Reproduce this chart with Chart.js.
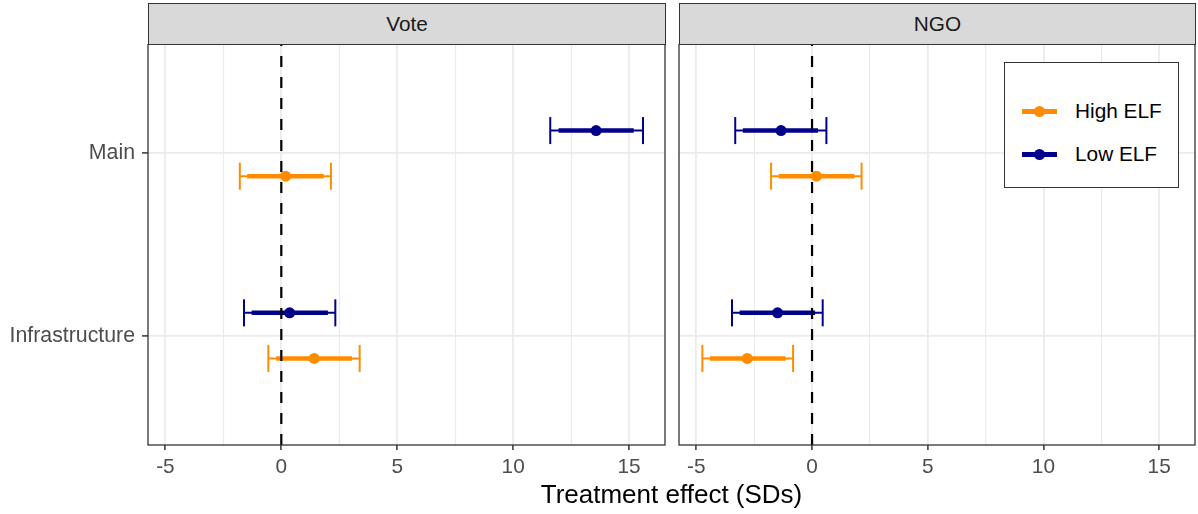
<!DOCTYPE html>
<html>
<head>
<meta charset="utf-8">
<script src="https://cdn.jsdelivr.net/npm/chart.js@4.4.1/dist/chart.umd.min.js"></script>
<style>
  body { margin: 0; width: 1198px; height: 514px; position: relative; background: #fff; overflow: hidden;
         font-family: "Liberation Sans", Arial, sans-serif; }
  canvas { position: absolute; }
  .strip { position: absolute; top: 3px; height: 42px; background: #d9d9d9; border: 1.3px solid #333;
           box-sizing: border-box; font-size: 20.8px; color: #1a1a1a; text-align: center; line-height: 39px; }
  .xtitle { position: absolute; left: 148px; width: 1047px; top: 478px; text-align: center;
            font-size: 26px; color: #000; line-height: 32px; }
  .legend { position: absolute; left: 1004px; top: 62px; width: 175px; height: 126px; background: #fff;
            border: 1.3px solid #333; box-sizing: border-box; }
  .item { position: absolute; left: 0; height: 30px; width: 170px; }
  .key { position: absolute; left: 17px; top: 12.5px; width: 35px; height: 5px; }
  .dot { position: absolute; left: 29px; top: 9.5px; width: 11px; height: 11px; border-radius: 50%; }
  .lab { position: absolute; left: 70px; top: 0; font-size: 20.8px; line-height: 30px; color: #000; }
</style>
</head>
<body>
<canvas id="voteChart" style="left:0;top:44px" width="667" height="470"></canvas>
<canvas id="ngoChart" style="left:677px;top:44px" width="520" height="470"></canvas>
<div class="strip" style="left:148px;width:518px">Vote</div>
<div class="strip" style="left:679px;width:517px">NGO</div>
<div class="xtitle">Treatment effect (SDs)</div>
<div class="legend" id="legend"></div>
<script>
const categories = ["Main", "Infrastructure"];
const seriesNames = ["High ELF", "Low ELF"];
const seriesColors = ["#ff8c00", "#00008b"];
const xTicks = [-5, -2.5, 0, 2.5, 5, 7.5, 10, 12.5, 15];

// Vote panel
const voteHighEst = [0.19, 1.42];
const voteHighLo95 = [-1.79, -0.56];
const voteHighHi95 = [2.14, 3.38];
const voteHighLo90 = [-1.47, -0.22];
const voteHighHi90 = [1.83, 3.05];
const voteLowEst = [13.58, 0.36];
const voteLowLo95 = [11.6, -1.61];
const voteLowHi95 = [15.6, 2.33];
const voteLowLo90 = [11.96, -1.28];
const voteLowHi90 = [15.2, 2.01];

// NGO panel
const ngoHighEst = [0.19, -2.8];
const ngoHighLo95 = [-1.77, -4.74];
const ngoHighHi95 = [2.14, -0.82];
const ngoHighLo90 = [-1.44, -4.41];
const ngoHighHi90 = [1.83, -1.15];
const ngoLowEst = [-1.34, -1.49];
const ngoLowLo95 = [-3.32, -3.46];
const ngoLowHi95 = [0.62, 0.46];
const ngoLowLo90 = [-2.99, -3.13];
const ngoLowHi90 = [0.26, 0.13];

const dodge = [0.125, -0.125];

function buildDatasets(groups) {
  const sets = [];
  groups.forEach((g, s) => {
    const color = seriesColors[s];
    categories.forEach((cat, i) => {
      const y = i + 1 + dodge[s];
      sets.push({
        data: [{ x: g.lo95[i], y }, { x: g.hi95[i], y }],
        showLine: true, borderColor: color, borderWidth: 2,
        pointStyle: "line", pointRotation: 90, pointRadius: 13.5,
        pointBorderWidth: 2, pointBorderColor: color, order: 3
      });
      sets.push({
        data: [{ x: g.lo90[i], y }, { x: g.hi90[i], y }],
        showLine: true, borderColor: color, borderWidth: 4.5, pointRadius: 0, order: 2
      });
    });
    sets.push({
      data: g.est.map((v, i) => ({ x: v, y: i + 1 + dodge[s] })),
      pointRadius: 5.5, backgroundColor: color, borderColor: color, borderWidth: 0, order: 1
    });
  });
  return sets;
}

const panelDecor = {
  id: "panelDecor",
  afterDatasetsDraw(chart) {
    const { ctx, chartArea: a } = chart;
    const px = chart.scales.x.getPixelForValue(0);
    ctx.save();
    ctx.beginPath();
    ctx.rect(a.left, a.top, a.width, a.height);
    ctx.clip();
    ctx.strokeStyle = "#000";
    ctx.lineWidth = 2.2;
    ctx.setLineDash([11, 10]);
    ctx.beginPath();
    ctx.moveTo(px, a.bottom);
    ctx.lineTo(px, a.top);
    ctx.stroke();
    ctx.restore();
    ctx.save();
    ctx.strokeStyle = "#333";
    ctx.lineWidth = 1.3;
    ctx.strokeRect(a.left, a.top, a.width, a.height);
    ctx.restore();
  }
};

function noPadding(scale) {
  scale.paddingLeft = 0;
  scale.paddingRight = 0;
  scale.paddingTop = 0;
  scale.paddingBottom = 0;
}

function makeChart(id, groups, showY) {
  return new Chart(document.getElementById(id), {
    type: "scatter",
    data: { datasets: buildDatasets(groups) },
    options: {
      responsive: false,
      animation: false,
      events: [],
      layout: { autoPadding: false, padding: { left: 0, right: 2, top: 0, bottom: 0 } },
      plugins: { legend: { display: false }, tooltip: { enabled: false } },
      scales: {
        x: {
          type: "linear", min: -5.75, max: 16.55,
          afterBuildTicks: (scale) => { scale.ticks = xTicks.map((v) => ({ value: v })); },
          afterFit: (scale) => { scale.height = 69; noPadding(scale); },
          border: { display: false },
          grid: {
            color: "#ebebeb",
            lineWidth: (c) => (c.tick && c.tick.value % 5 === 0 ? 1.8 : 1.1),
            tickColor: (c) => (c.tick && c.tick.value % 5 === 0 ? "#333" : "rgba(0,0,0,0)"),
            tickLength: 5, tickWidth: 1.5
          },
          ticks: {
            autoSkip: false, maxRotation: 0, padding: 5, color: "#4d4d4d",
            font: { family: "Liberation Sans", size: 20.8 },
            callback: (v) => (v % 5 === 0 ? String(v) : "")
          }
        },
        y: {
          type: "linear", min: 0.4, max: 2.6, reverse: true,
          afterBuildTicks: (scale) => { scale.ticks = categories.map((c, i) => ({ value: i + 1 })); },
          afterFit: (scale) => { scale.width = showY ? 148 : 2; noPadding(scale); },
          border: { display: false },
          grid: {
            color: "#ebebeb", lineWidth: 1.8,
            drawTicks: showY, tickColor: "#333", tickLength: 6, tickWidth: 1.5
          },
          ticks: {
            display: showY, padding: 7, color: "#4d4d4d",
            font: { family: "Liberation Sans", size: 21.3 },
            callback: (v) => categories[v - 1]
          }
        }
      }
    },
    plugins: [panelDecor]
  });
}

makeChart("voteChart", [
  { est: voteHighEst, lo95: voteHighLo95, hi95: voteHighHi95, lo90: voteHighLo90, hi90: voteHighHi90 },
  { est: voteLowEst, lo95: voteLowLo95, hi95: voteLowHi95, lo90: voteLowLo90, hi90: voteLowHi90 }
], true);

makeChart("ngoChart", [
  { est: ngoHighEst, lo95: ngoHighLo95, hi95: ngoHighHi95, lo90: ngoHighLo90, hi90: ngoHighHi90 },
  { est: ngoLowEst, lo95: ngoLowLo95, hi95: ngoLowHi95, lo90: ngoLowLo90, hi90: ngoLowHi90 }
], false);

const legend = document.getElementById("legend");
seriesNames.forEach((name, s) => {
  const item = document.createElement("div");
  item.className = "item";
  item.style.top = (33 + s * 43) + "px";
  const key = document.createElement("div");
  key.className = "key";
  key.style.background = seriesColors[s];
  const dot = document.createElement("div");
  dot.className = "dot";
  dot.style.background = seriesColors[s];
  const lab = document.createElement("div");
  lab.className = "lab";
  lab.textContent = name;
  item.appendChild(key);
  item.appendChild(dot);
  item.appendChild(lab);
  legend.appendChild(item);
});
</script>
</body>
</html>
